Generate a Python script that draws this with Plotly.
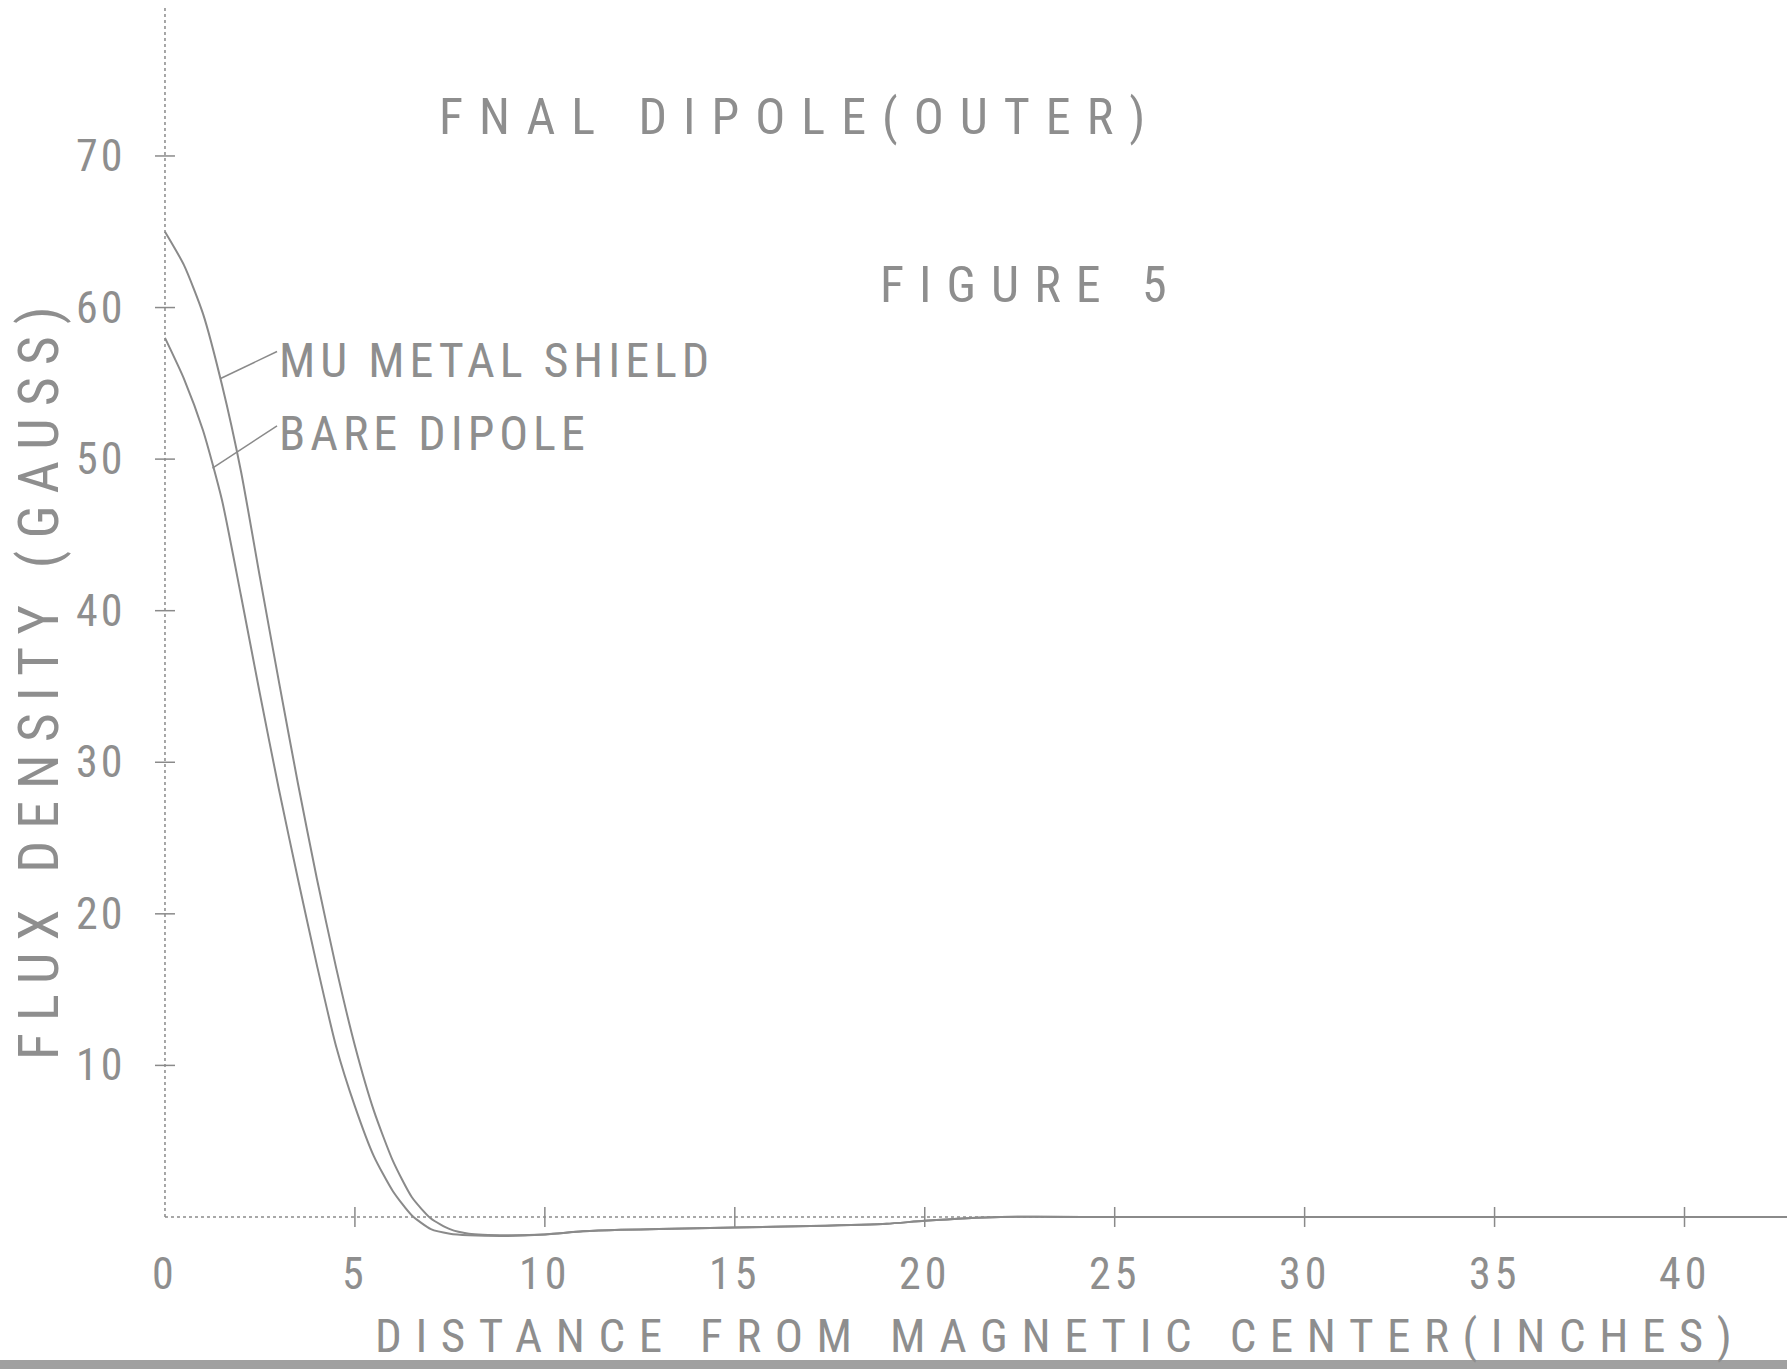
import plotly.graph_objects as go

# ---- data ----
distance_in = [0, 0.5, 1.0, 1.5, 2.0, 2.5, 3.0, 3.5, 4.0, 4.5, 5.0, 5.5, 6.0, 6.5,
               7.0, 7.5, 8.0, 9.0, 10.0, 11.0, 12.0, 13.0, 15.0, 17.0, 19.0, 20.0,
               22.0, 25.0, 30.0, 35.0, 40.0, 42.7]
mu_metal_shield = [65.0, 62.8, 59.6, 54.9, 49.2, 42.2, 35.3, 28.6, 22.3, 16.5, 11.3, 7.0,
                   3.7, 1.3, -0.1, -0.8, -1.1, -1.2, -1.15, -0.95, -0.85, -0.8, -0.7,
                   -0.6, -0.45, -0.25, 0.0, 0.0, 0.0, 0.0, 0.0, 0.0]
bare_dipole = [58.0, 55.3, 51.9, 47.3, 41.0, 34.5, 28.2, 22.3, 16.6, 11.3, 7.3, 4.0,
               1.7, 0.1, -0.8, -1.1, -1.2, -1.25, -1.15, -0.95, -0.85, -0.8, -0.7,
               -0.6, -0.45, -0.25, 0.0, 0.0, 0.0, 0.0, 0.0, 0.0]

x_tick_values = [0, 5, 10, 15, 20, 25, 30, 35, 40]
x_tick_labels = ["0", "5", "10", "15", "20", "25", "30", "35", "40"]
y_tick_values = [10, 20, 30, 40, 50, 60, 70]
y_tick_labels = ["10", "20", "30", "40", "50", "60", "70"]

title_text = "FNAL DIPOLE(OUTER)"
figure_text = "FIGURE 5"
label_mu = "MU METAL SHIELD"
label_bare = "BARE DIPOLE"
x_title = "DISTANCE FROM MAGNETIC CENTER(INCHES)"
y_title = "FLUX DENSITY (GAUSS)"

# ---- styling ----
W, H = 1787, 1369
X_RANGE = [-4.343, 42.698]
Y_RANGE = [-10.03, 80.29]
INK = "#8a8a8a"
TXT = "#8e8e8e"
FONT = "Liberation Sans Narrow, Roboto Condensed, DejaVu Sans Condensed, Arial Narrow, sans-serif"


def spaced(s, px):
    return f'<span style="letter-spacing:{px}px">{s}</span>'


fig = go.Figure()
fig.add_trace(go.Scatter(x=distance_in, y=mu_metal_shield, mode="lines",
                         line=dict(color=INK, width=2, shape="spline", smoothing=0.6),
                         name=label_mu, showlegend=False, hoverinfo="skip"))
fig.add_trace(go.Scatter(x=distance_in, y=bare_dipole, mode="lines",
                         line=dict(color=INK, width=2, shape="spline", smoothing=0.6),
                         name=label_bare, showlegend=False, hoverinfo="skip"))

shapes = []
# axis lines
shapes.append(dict(type="line", xref="x", yref="y", x0=0, x1=0, y0=0, y1=Y_RANGE[1] - 0.4,
                   line=dict(color=INK, width=1.5, dash="dot")))
shapes.append(dict(type="line", xref="x", yref="y", x0=0, x1=X_RANGE[1], y0=0, y1=0,
                   line=dict(color=INK, width=1.5, dash="dot")))
# crossing tick marks
for xv in x_tick_values[1:]:
    shapes.append(dict(type="line", xref="x", yref="y", xsizemode="scaled", ysizemode="pixel",
                       yanchor=0, x0=xv, x1=xv, y0=-10, y1=10,
                       line=dict(color=INK, width=1.5)))
for yv in y_tick_values:
    shapes.append(dict(type="line", xref="x", yref="y", xsizemode="pixel", ysizemode="scaled",
                       xanchor=0, x0=-10, x1=10, y0=yv, y1=yv,
                       line=dict(color=INK, width=1.5)))
# leader lines from labels to curves
shapes.append(dict(type="line", xref="x", yref="y", x0=1.45, y0=55.3,
                   x1=2.95, y1=57.1, line=dict(color=INK, width=1.5)))
shapes.append(dict(type="line", xref="x", yref="y", x0=1.25, y0=49.4,
                   x1=2.95, y1=52.2, line=dict(color=INK, width=1.5)))
# scanned bottom rule
shapes.append(dict(type="rect", xref="paper", yref="paper", x0=0, x1=1, y0=0, y1=9 / H,
                   fillcolor="#a0a0a0", line=dict(width=0)))

annotations = []
for xv, lab in zip(x_tick_values, x_tick_labels):
    annotations.append(dict(x=xv, y=0, xref="x", yref="y", text=spaced(lab, 4),
                            showarrow=False, xanchor="center", yanchor="middle", yshift=-57,
                            font=dict(family=FONT, size=44, color=TXT)))
for yv, lab in zip(y_tick_values, y_tick_labels):
    annotations.append(dict(x=0, y=yv, xref="x", yref="y", text=spaced(lab, 3),
                            showarrow=False, xanchor="right", yanchor="middle", xshift=-38,
                            font=dict(family=FONT, size=44, color=TXT)))

annotations.append(dict(x=7.16, y=72.6, xref="x", yref="y", text=spaced(title_text, 16),
                        showarrow=False, xanchor="left", yanchor="middle",
                        font=dict(family=FONT, size=50, color=TXT)))
annotations.append(dict(x=18.77, y=61.5, xref="x", yref="y", text=spaced(figure_text, 15),
                        showarrow=False, xanchor="left", yanchor="middle",
                        font=dict(family=FONT, size=50, color=TXT)))
annotations.append(dict(x=2.95, y=56.5, xref="x", yref="y", text=spaced(label_mu, 5),
                        showarrow=False, xanchor="left", yanchor="middle",
                        font=dict(family=FONT, size=48, color=TXT)))
annotations.append(dict(x=2.95, y=51.7, xref="x", yref="y", text=spaced(label_bare, 5),
                        showarrow=False, xanchor="left", yanchor="middle",
                        font=dict(family=FONT, size=48, color=TXT)))
annotations.append(dict(x=5.47, y=-7.8, xref="x", yref="y", text=spaced(x_title, 13.6),
                        showarrow=False, xanchor="left", yanchor="middle",
                        font=dict(family=FONT, size=47, color=TXT)))
annotations.append(dict(x=-3.3, y=35.6, xref="x", yref="y", text=spaced(y_title, 12),
                        showarrow=False, xanchor="center", yanchor="middle", textangle=-90,
                        font=dict(family=FONT, size=56, color=TXT)))

fig.update_layout(
    width=W, height=H,
    margin=dict(l=0, r=0, t=0, b=0),
    paper_bgcolor="white", plot_bgcolor="white",
    xaxis=dict(range=X_RANGE, visible=False, fixedrange=True),
    yaxis=dict(range=Y_RANGE, visible=False, fixedrange=True),
    shapes=shapes, annotations=annotations, showlegend=False,
)

fig.write_html("out.html")
